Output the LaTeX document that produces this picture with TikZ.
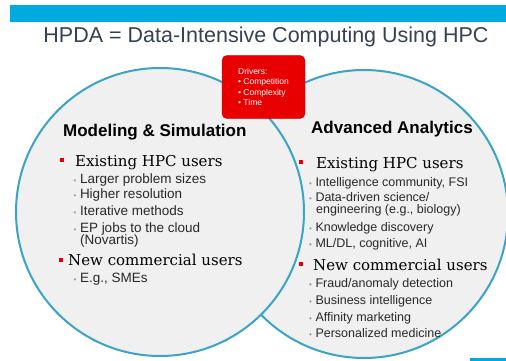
\documentclass[tikz,border=0pt]{standalone}
\usepackage{fontspec}
\setmainfont{Liberation Sans}
\newfontfamily\bookfont{DejaVu Serif}
\usetikzlibrary{positioning}
\definecolor{barblue}{RGB}{0,170,222}
\definecolor{titlegray}{RGB}{52,66,82}
\definecolor{ringblue}{RGB}{58,164,196}
\definecolor{ringfill}{RGB}{240,240,240}
\definecolor{driverred}{RGB}{232,0,0}
\definecolor{itemgray}{RGB}{40,40,40}
\definecolor{dotgray}{RGB}{150,158,168}
\definecolor{dotblue}{RGB}{120,165,190}
\tikzset{
	ring/.style = {fill=ringfill, draw=ringblue, line width=2pt},
	head/.style = {anchor=base west, inner sep=0pt, font=\fontsize{17}{17}\selectfont\bfseries},
	usergroup/.style = {anchor=base west, inner sep=0pt, font=\bookfont\fontsize{15}{15}\selectfont},
	detail/.style = {anchor=base west, inner sep=0pt, text=itemgray, font=\fontsize{13.5}{13.5}\selectfont},
	detailR/.style = {detail, font=\fontsize{12.5}{12.5}\selectfont},
	redsq/.style = {rectangle, fill=driverred, minimum size=3.5pt, inner sep=0pt},
	drivers/.style = {
			rectangle, rounded corners=5pt,
			fill=driverred, draw=driverred!80!black,
			minimum width=83pt, minimum height=63pt,
			align=left, text=white, font=\fontsize{8.5}{10.5}\selectfont,
		}
}
\newcommand{\subdot}{{\color{dotgray}\fontsize{8}{8}\selectfont\textbullet}\hspace{3.5pt}}
\newcommand{\subdotR}{{\color{dotblue}\fontsize{8}{8}\selectfont\textbullet}\hspace{3.5pt}}

\begin{document}
\begin{tikzpicture}[x=1pt, y=-1pt]
	\useasboundingbox (0,0) rectangle (506,361);
	\fill[white] (0,0) rectangle (506,361);

	% header
	\fill[barblue] (10,5) rectangle (506,22);
	\node[font=\fontsize{21.5}{21.5}\selectfont, text=titlegray, anchor=base, inner sep=0pt] (title) at (266,43) {HPDA = Data-Intensive Computing Using HPC};

	% the two circles, left one on top
	\filldraw[ring] (364,214) circle (144pt);
	\filldraw[ring] (160,212) circle (144pt);

	\node[drivers] at (263.5,87) (drivers) {Drivers:\\\textbullet\ Competition\\\textbullet\ Complexity\\\textbullet\ Time};

	% left circle
	\node[head] at (63,136) (modsim) {Modeling \& Simulation};
	\node[redsq] at (62,160) (dotA) {};
	\node[usergroup] at (75,166) (hpcA) {Existing HPC users};
	\node[detail] at (73.5,183) (larger) {\subdot Larger problem sizes};
	\node[detail] at (73.5,198) (higher) {\subdot Higher resolution};
	\node[detail] at (73.5,215) (iterative) {\subdot Iterative methods};
	\node[detail] at (73.5,232) (epjobs) {\subdot EP jobs to the cloud};
	\node[detail] at (80,244) (novartis) {(Novartis)};
	\node[redsq] at (61,260) (dotB) {};
	\node[usergroup] at (68,265) (newA) {New commercial users};
	\node[detail] at (73.5,282) (smes) {\subdot E.g., SMEs};

	% right circle
	\node[head] at (311,133) (analytics) {Advanced Analytics};
	\node[redsq] at (301,162) (dotC) {};
	\node[usergroup] at (316,168) (hpcB) {Existing HPC users};
	\node[detailR] at (309,186) (intel) {\subdotR Intelligence community, FSI};
	\node[detailR] at (309,201) (datadriven) {\subdotR Data-driven science/};
	\node[detailR] at (316,213) (engineering) {engineering (e.g., biology)};
	\node[detailR] at (309,231) (knowledge) {\subdotR Knowledge discovery};
	\node[detailR] at (309,247) (mldl) {\subdotR ML/DL, cognitive, AI};
	\node[redsq] at (301,264) (dotD) {};
	\node[usergroup] at (313,270) (newB) {New commercial users};
	\node[detailR] at (309,287) (fraud) {\subdotR Fraud/anomaly detection};
	\node[detailR] at (309,304) (business) {\subdotR Business intelligence};
	\node[detailR] at (309,321) (affinity) {\subdotR Affinity marketing};
	\node[detailR] at (309,337) (personal) {\subdotR Personalized medicine};

	\fill[barblue] (470,358) rectangle (506,361);
\end{tikzpicture}
\end{document}
